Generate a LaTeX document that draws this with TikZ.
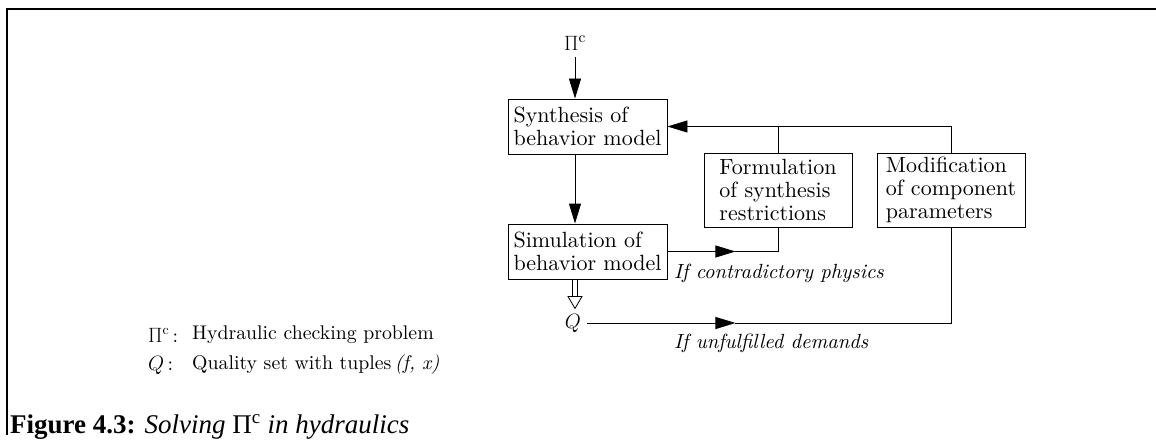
\documentclass[tikz,border=0pt]{standalone}
\usepackage{fontspec}
\setmainfont{lmroman10-regular.otf}[
  BoldFont=lmroman10-bold.otf,
  ItalicFont=lmroman10-italic.otf,
  BoldItalicFont=lmroman10-bolditalic.otf]
\newfontfamily\capfont{Liberation Serif}
\usetikzlibrary{arrows.meta,calc}
\begin{document}
\begin{tikzpicture}[x=1pt,y=-1pt,
  every node/.style={font=\fontsize{22}{23}\selectfont},
  box/.style={draw, line width=0.9pt, minimum width=159pt, minimum height=55pt,
    align=left, inner sep=0pt},
  sidebox/.style={box, minimum width=148pt, minimum height=74pt},
  link/.style={line width=0.9pt},
  flow/.style={link, -{Triangle[length=20pt,width=12pt]}},
  note/.style={font=\fontsize{20.5}{22}\selectfont\itshape, anchor=west, inner sep=0pt},
  legend/.style={font=\fontsize{19.8}{22}\selectfont, anchor=west, inner sep=0pt}]
\useasboundingbox (0,0) rectangle (1156,441);

% frame
\draw[line width=2.6pt] (7,435) -- (7,9) -- (1156,9);

% problem input
\node (pi) at (575,43) {$\Pi^{\mathrm{c}}$};

% process boxes
\node[box] (syn) at (587.5,126.5) {Synthesis of\\behavior model};
\node[box] (sim) at (587.5,251.5) {Simulation of\\behavior model};
\node[sidebox] (form) at (778,190) {Formulation\\of synthesis\\restrictions};
\node[sidebox] (mod) at (951,190) {Modification\\of component\\parameters};
\node[inner sep=0pt] (q) at (573,323) {$Q$};

% main flow
\draw[flow] (pi.south) ++(0,3) -- (pi |- syn.north);
\draw[flow] (pi |- syn.south) -- (pi |- sim.north);

% feedback to synthesis
\draw[flow] (mod.north) |- (syn.east);
\draw[link] (form.north) -- (form.north |- syn.east);

% contradictory physics branch
\coordinate (m1) at ($(sim.east)+(68,0)$);
\draw[flow] (sim.east) -- (m1);
\draw[link] (m1) -| (form.south);
\node[note] (l1) at (674,273) {If contradictory physics};

% unfulfilled demands branch
\coordinate (qs) at ($(q.east)+(6,0)$);
\coordinate (m2) at (m1 |- q);
\draw[flow] (qs) -- (m2);
\draw[link] (m2) -| (mod.south);
\node[note] (l2) at (674,343) {If unfulfilled demands};

% hollow double arrow from simulation to Q
\coordinate (dt) at (pi |- sim.south);
\draw[line width=0.8pt] ($(dt)+(-2.2,0)$) -- ++(0,17);
\draw[line width=0.8pt] ($(dt)+(2.2,0)$) -- ++(0,17);
\draw[line width=0.8pt, line join=miter] ($(dt)+(-7,17)$) -- ($(dt)+(7,17)$) -- ($(dt)+(0,29)$) -- cycle;

% legend
\node[legend] (k1) at (148,335) {$\Pi^{\mathrm{c}}$\,:};
\node[legend] (d1) at (192,335) {Hydraulic checking problem};
\node[legend] (k2) at (148,365) {$Q$\,:};
\node[legend] (d2) at (192,365) {Quality set with tuples\,\textit{(f, x)}};

% caption
\node[anchor=base west, inner sep=0pt, font=\capfont\fontsize{27}{30}\selectfont] (cap) at (10,433)
  {\textbf{Figure 4.3:} \textit{Solving} Π\textsuperscript{c} \textit{in hydraulics}};
\end{tikzpicture}
\end{document}
